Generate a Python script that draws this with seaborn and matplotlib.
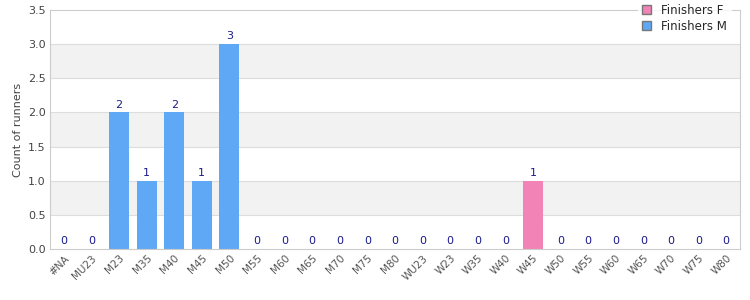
import matplotlib
matplotlib.use("Agg")
import matplotlib.pyplot as plt
import seaborn as sns
import pandas as pd
import numpy as np
from matplotlib.patches import Patch

categories = ["#NA", "MU23", "M23", "M35", "M40", "M45", "M50", "M55", "M60", "M65",
              "M70", "M75", "M80", "WU23", "W23", "W35", "W40", "W45", "W50", "W55",
              "W60", "W65", "W70", "W75", "W80"]
finishers_m = [0, 0, 2, 1, 2, 1, 3, 0, 0, 0, 0, 0, 0, 0, 0, 0, 0, 0, 0, 0, 0, 0, 0, 0, 0]
finishers_f = [0, 0, 0, 0, 0, 0, 0, 0, 0, 0, 0, 0, 0, 0, 0, 0, 0, 1, 0, 0, 0, 0, 0, 0, 0]
yticks = [0.0, 0.5, 1.0, 1.5, 2.0, 2.5, 3.0, 3.5]

col_f = "#F283B6"
col_m = "#5FA8F5"

sns.set_theme(style="white")
plt.rcParams['font.family'] = ['DejaVu Sans']

df = pd.DataFrame({
    "cat": categories * 2,
    "count": finishers_f + finishers_m,
    "series": ["Finishers F"] * len(categories) + ["Finishers M"] * len(categories),
})

fig = plt.figure(figsize=(7.5, 3.0), dpi=100)
ax = fig.add_axes([0.0667, 0.17, 0.92, 0.7967])

# alternating bands
for i in range(len(yticks) - 1):
    if i % 2 == 1:
        ax.axhspan(yticks[i], yticks[i + 1], color="#F2F2F2", zorder=0, lw=0)
for y in yticks[1:-1]:
    ax.axhline(y, color="#DDDDDD", lw=0.8, zorder=0.5)

sns.barplot(data=df, x="cat", y="count", hue="series", dodge=False,
            palette={"Finishers F": col_f, "Finishers M": col_m},
            width=0.72, ax=ax, legend=False, zorder=2, errorbar=None,
            saturation=1, linewidth=0, edgecolor="none")

totals = [a + b for a, b in zip(finishers_m, finishers_f)]
for i, t in enumerate(totals):
    ax.text(i, t + 0.04, f"{t}", ha="center", va="bottom", fontsize=8,
            color="#1A1A8C", zorder=3)

ax.set_xlim(-0.5, len(categories) - 0.5)
ax.set_ylim(0, 3.5)
ax.set_yticks(yticks)
ax.set_yticklabels([f"{v:.1f}" for v in yticks], fontsize=8, color="#444444")
ax.set_xticks(range(len(categories)))
ax.set_xticklabels(categories, rotation=45, ha="right", rotation_mode="anchor",
                   fontsize=7.5, color="#555555")
ax.tick_params(axis="both", length=0, pad=3)
ax.set_xlabel("")
ax.set_ylabel("Count of runners", fontsize=8, color="#444444")

for s in ax.spines.values():
    s.set_color("#CCCCCC")
    s.set_linewidth(0.8)

handles = [Patch(facecolor=col_f, edgecolor="#777777", label="Finishers F"),
           Patch(facecolor=col_m, edgecolor="#777777", label="Finishers M")]
leg = ax.legend(handles=handles, loc="upper right", bbox_to_anchor=(0.995, 1.065),
                frameon=True, fontsize=8.5, handlelength=0.75, handleheight=0.75,
                borderpad=0.3, labelspacing=0.25, handletextpad=0.9, fancybox=False)
leg.get_frame().set_edgecolor("white")
leg.get_frame().set_facecolor("white")
leg.set_zorder(5)

fig.savefig("out.png", dpi=100)
